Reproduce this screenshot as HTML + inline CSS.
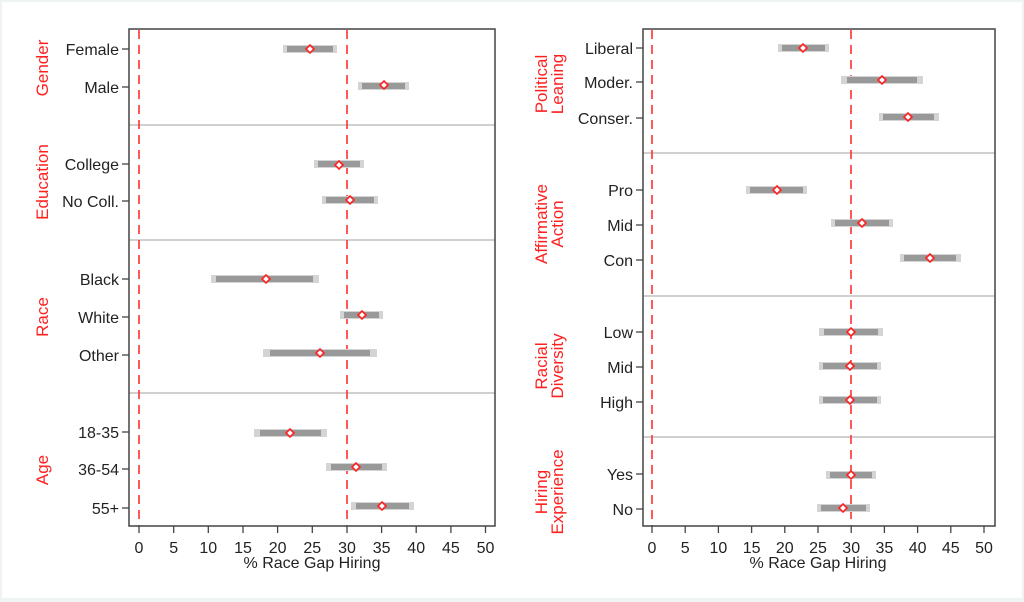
<!DOCTYPE html>
<html><head><meta charset="utf-8"><style>
body{margin:0;background:#eef4f4;}
svg{display:block;font-family:"Liberation Sans",Arial,sans-serif;}
</style></head><body>
<svg width="1024" height="602" viewBox="0 0 1024 602">
<rect x="2" y="2" width="1020" height="596" fill="#fff"/>
<defs>
<g id="d"><polygon points="0,-4 4,0 0,4 -4,0" fill="#fff" stroke="#ff2020" stroke-width="1.6"/></g>
</defs>
<!-- LEFT PANEL -->
<g stroke="#d0d0d0" stroke-width="2">
<line x1="129" y1="125" x2="495" y2="125"/><line x1="129" y1="240" x2="495" y2="240"/><line x1="129" y1="393" x2="495" y2="393"/>
</g>
<g stroke="#ff3030" stroke-width="1.6" stroke-dasharray="9,6">
<line x1="139" y1="30" x2="139" y2="526"/><line x1="347" y1="30" x2="347" y2="526"/>
</g>
<rect x="129" y="29" width="366" height="497" fill="none" stroke="#444" stroke-width="1.5"/>
<g stroke-width="8" stroke="#d4d4d4">
<line x1="283" y1="49" x2="337" y2="49"/><line x1="358" y1="86" x2="409" y2="86"/>
<line x1="314" y1="164" x2="364" y2="164"/><line x1="322" y1="200" x2="378" y2="200"/>
<line x1="211" y1="279" x2="319" y2="279"/><line x1="340" y1="315" x2="383" y2="315"/><line x1="263" y1="353" x2="377" y2="353"/>
<line x1="254" y1="433" x2="327" y2="433"/><line x1="326" y1="467" x2="387" y2="467"/><line x1="351" y1="506" x2="414" y2="506"/>
</g>
<g stroke-width="6" stroke="#999">
<line x1="287" y1="49" x2="333" y2="49"/><line x1="362" y1="86" x2="405" y2="86"/>
<line x1="318" y1="164" x2="360" y2="164"/><line x1="326" y1="200" x2="374" y2="200"/>
<line x1="216" y1="279" x2="313" y2="279"/><line x1="344" y1="315" x2="379" y2="315"/><line x1="270" y1="353" x2="370" y2="353"/>
<line x1="260" y1="433" x2="321" y2="433"/><line x1="331" y1="467" x2="382" y2="467"/><line x1="356" y1="506" x2="409" y2="506"/>
</g>
<use href="#d" x="310" y="49"/><use href="#d" x="384" y="85"/><use href="#d" x="339" y="165"/><use href="#d" x="350" y="200"/>
<use href="#d" x="266" y="279"/><use href="#d" x="362" y="315"/><use href="#d" x="320" y="353"/>
<use href="#d" x="290" y="433"/><use href="#d" x="356" y="467"/><use href="#d" x="382" y="506"/>
<g stroke="#444" stroke-width="1.3">
<line x1="122" y1="49" x2="129" y2="49"/><line x1="122" y1="87" x2="129" y2="87"/><line x1="122" y1="164" x2="129" y2="164"/><line x1="122" y1="201" x2="129" y2="201"/>
<line x1="122" y1="279" x2="129" y2="279"/><line x1="122" y1="317" x2="129" y2="317"/><line x1="122" y1="355" x2="129" y2="355"/>
<line x1="122" y1="432" x2="129" y2="432"/><line x1="122" y1="469" x2="129" y2="469"/><line x1="122" y1="508" x2="129" y2="508"/>
<line x1="139" y1="526" x2="139" y2="533"/><line x1="173.7" y1="526" x2="173.7" y2="533"/><line x1="208.3" y1="526" x2="208.3" y2="533"/><line x1="243" y1="526" x2="243" y2="533"/><line x1="277.6" y1="526" x2="277.6" y2="533"/><line x1="312.3" y1="526" x2="312.3" y2="533"/><line x1="347" y1="526" x2="347" y2="533"/><line x1="381.6" y1="526" x2="381.6" y2="533"/><line x1="416.2" y1="526" x2="416.2" y2="533"/><line x1="450.9" y1="526" x2="450.9" y2="533"/><line x1="485.5" y1="526" x2="485.5" y2="533"/>
</g>
<g font-size="16" fill="#222" text-anchor="end">
<text x="119" y="55">Female</text><text x="119" y="93">Male</text><text x="119" y="170">College</text><text x="119" y="207">No Coll.</text>
<text x="119" y="285">Black</text><text x="119" y="323">White</text><text x="119" y="361">Other</text>
<text x="119" y="438">18-35</text><text x="119" y="475">36-54</text><text x="119" y="514">55+</text>
</g>
<g font-size="16" fill="#222" text-anchor="middle">
<text x="139" y="553">0</text><text x="173.7" y="553">5</text><text x="208.3" y="553">10</text><text x="243" y="553">15</text><text x="277.6" y="553">20</text><text x="312.3" y="553">25</text><text x="347" y="553">30</text><text x="381.6" y="553">35</text><text x="416.2" y="553">40</text><text x="450.9" y="553">45</text><text x="485.5" y="553">50</text>
<text x="312" y="568">% Race Gap Hiring</text>
</g>
<g font-size="17" fill="#ff2020" text-anchor="middle">
<text transform="translate(48,68) rotate(-90)">Gender</text>
<text transform="translate(48,182) rotate(-90)">Education</text>
<text transform="translate(48,317) rotate(-90)">Race</text>
<text transform="translate(48,470) rotate(-90)">Age</text>
</g>
<!-- RIGHT PANEL -->
<g stroke="#d0d0d0" stroke-width="2">
<line x1="643" y1="153" x2="995" y2="153"/><line x1="643" y1="296" x2="995" y2="296"/><line x1="643" y1="437" x2="995" y2="437"/>
</g>
<g stroke="#ff3030" stroke-width="1.6" stroke-dasharray="9,6">
<line x1="652" y1="30" x2="652" y2="526"/><line x1="851" y1="30" x2="851" y2="526"/>
</g>
<rect x="643" y="29" width="352" height="497" fill="none" stroke="#444" stroke-width="1.5"/>
<g stroke-width="8" stroke="#d4d4d4">
<line x1="778" y1="48" x2="829" y2="48"/><line x1="841" y1="80" x2="923" y2="80"/><line x1="879" y1="117" x2="939" y2="117"/>
<line x1="746" y1="190" x2="807" y2="190"/><line x1="831" y1="223" x2="893" y2="223"/><line x1="900" y1="258" x2="961" y2="258"/>
<line x1="819" y1="332" x2="883" y2="332"/><line x1="819" y1="366" x2="881" y2="366"/><line x1="819" y1="400" x2="881" y2="400"/>
<line x1="826" y1="475" x2="876" y2="475"/><line x1="817" y1="508" x2="870" y2="508"/>
</g>
<g stroke-width="6" stroke="#999">
<line x1="782" y1="48" x2="825" y2="48"/><line x1="847" y1="80" x2="917" y2="80"/><line x1="883" y1="117" x2="934" y2="117"/>
<line x1="750" y1="190" x2="803" y2="190"/><line x1="835" y1="223" x2="889" y2="223"/><line x1="904" y1="258" x2="956" y2="258"/>
<line x1="824" y1="332" x2="878" y2="332"/><line x1="823" y1="366" x2="877" y2="366"/><line x1="823" y1="400" x2="877" y2="400"/>
<line x1="830" y1="475" x2="872" y2="475"/><line x1="821" y1="508" x2="866" y2="508"/>
</g>
<use href="#d" x="803" y="48"/><use href="#d" x="882" y="80"/><use href="#d" x="908" y="117"/>
<use href="#d" x="777" y="190"/><use href="#d" x="862" y="223"/><use href="#d" x="930" y="258"/>
<use href="#d" x="851" y="332"/><use href="#d" x="850" y="366"/><use href="#d" x="850" y="400"/>
<use href="#d" x="851" y="475"/><use href="#d" x="843" y="508"/>
<g stroke="#444" stroke-width="1.3">
<line x1="636" y1="48" x2="643" y2="48"/><line x1="636" y1="82" x2="643" y2="82"/><line x1="636" y1="118" x2="643" y2="118"/>
<line x1="636" y1="190" x2="643" y2="190"/><line x1="636" y1="225" x2="643" y2="225"/><line x1="636" y1="260" x2="643" y2="260"/>
<line x1="636" y1="332" x2="643" y2="332"/><line x1="636" y1="367" x2="643" y2="367"/><line x1="636" y1="402" x2="643" y2="402"/>
<line x1="636" y1="474" x2="643" y2="474"/><line x1="636" y1="509" x2="643" y2="509"/>
<line x1="652" y1="526" x2="652" y2="533"/><line x1="685.2" y1="526" x2="685.2" y2="533"/><line x1="718.4" y1="526" x2="718.4" y2="533"/><line x1="751.6" y1="526" x2="751.6" y2="533"/><line x1="784.8" y1="526" x2="784.8" y2="533"/><line x1="818" y1="526" x2="818" y2="533"/><line x1="851.2" y1="526" x2="851.2" y2="533"/><line x1="884.4" y1="526" x2="884.4" y2="533"/><line x1="917.6" y1="526" x2="917.6" y2="533"/><line x1="950.8" y1="526" x2="950.8" y2="533"/><line x1="984" y1="526" x2="984" y2="533"/>
</g>
<g font-size="16" fill="#222" text-anchor="end">
<text x="633" y="54">Liberal</text><text x="633" y="88">Moder.</text><text x="633" y="124">Conser.</text>
<text x="633" y="196">Pro</text><text x="633" y="231">Mid</text><text x="633" y="266">Con</text>
<text x="633" y="338">Low</text><text x="633" y="373">Mid</text><text x="633" y="408">High</text>
<text x="633" y="480">Yes</text><text x="633" y="515">No</text>
</g>
<g font-size="16" fill="#222" text-anchor="middle">
<text x="652" y="553">0</text><text x="685.2" y="553">5</text><text x="718.4" y="553">10</text><text x="751.6" y="553">15</text><text x="784.8" y="553">20</text><text x="818" y="553">25</text><text x="851.2" y="553">30</text><text x="884.4" y="553">35</text><text x="917.6" y="553">40</text><text x="950.8" y="553">45</text><text x="984" y="553">50</text>
<text x="818" y="568">% Race Gap Hiring</text>
</g>
<g font-size="17" fill="#ff2020" text-anchor="middle">
<text transform="translate(547,84) rotate(-90)">Political</text><text transform="translate(563,84) rotate(-90)">Leaning</text>
<text transform="translate(547,224) rotate(-90)">Affirmative</text><text transform="translate(563,224) rotate(-90)">Action</text>
<text transform="translate(547,366) rotate(-90)">Racial</text><text transform="translate(563,366) rotate(-90)">Diversity</text>
<text transform="translate(547,492) rotate(-90)">Hiring</text><text transform="translate(563,492) rotate(-90)">Experience</text>
</g>
</svg>
</body></html>
